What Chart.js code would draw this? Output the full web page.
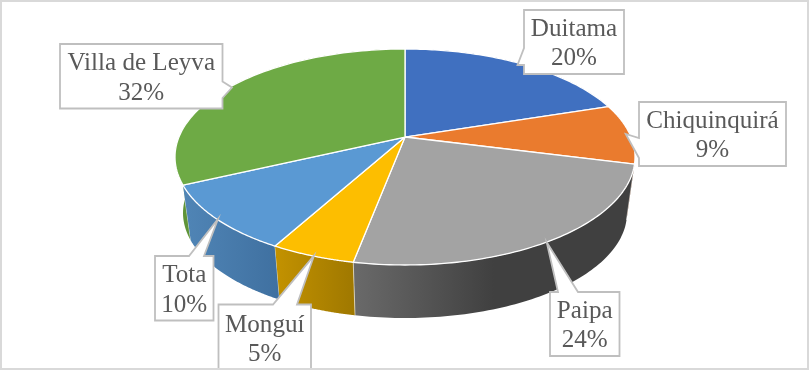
<!DOCTYPE html>
<html>
<head>
<meta charset="utf-8">
<style>html,body{margin:0;padding:0;background:#fff}canvas{display:block}</style>
<script src="https://cdn.jsdelivr.net/npm/chart.js@4/dist/chart.umd.js"></script>
</head>
<body>
<canvas id="c" width="809" height="370"></canvas>
<script>
const categories = ['Duitama', 'Chiquinquirá', 'Paipa', 'Monguí', 'Tota', 'Villa de Leyva'];
const shares = [20, 9, 24, 5, 10, 32];
const topColors = ['#4070C0', '#EA7B2E', '#A3A3A3', '#FDBE00', '#5A99D3', '#6EAA45'];
const wallStops = [
  [[0, '#2f5597'], [1, '#2f5597']],
  [[0, '#ae5a21'], [1, '#ae5a21']],
  [[0, '#6a6a6a'], [0.5, '#404040'], [1, '#404040']],
  [[0, '#c39200'], [1, '#9f7800']],
  [[0, '#5085b6'], [1, '#3f70a0']],
  [[0, '#5f9438'], [1, '#5f9438']]
];
// callout boxes: x0,y0,x1,y1, baselines, tail side, tail points
const callouts = [
  {box:[524,10,624,74],   base:[36,65],   side:'left',  tail:[[524,65],[517.5,65],[524,48]]},
  {box:[639,102,786,166], base:[128,157], side:'left',  tail:[[639,158],[625.7,134],[639,138]]},
  {box:[550,292,619.5,356], base:[318,347], side:'top', tail:[[558,292],[546.7,242.3],[578,292]]},
  {box:[218.5,304.5,311,372], base:[332,361], side:'top', tail:[[273,304.5],[314,255.7],[297,304.5]]},
  {box:[155,256,213.5,320.5], base:[282,311.5], side:'top', tail:[[189,256],[218,219],[204,256]]},
  {box:[60,44,222.5,108.5], base:[70,99.5], side:'right', tail:[[222.5,81.5],[232,87.5],[222.5,98]]}
];

const TOP_SX = 230 / 108, BOT_SX = 222 / 108, BOT_SY = 105 / 108, BOT_DY = 56, TILT = -0.185;

function project(el, angle, bottom) {
  const t = angle + Math.PI / 2;
  const u = Math.sin(t), v = -Math.cos(t);
  const w = 1 + TILT * v;
  const up = u * Math.sqrt(1 - TILT * TILT) / w;
  const vp = (v + TILT) / w;
  const R = el.outerRadius;
  return bottom
    ? [el.x + R * BOT_SX * up, el.y + BOT_DY + R * BOT_SY * vp]
    : [el.x + R * TOP_SX * up, el.y + R * vp];
}
function arcPoints(el, bottom) {
  const pts = [], n = 80;
  for (let i = 0; i <= n; i++) {
    pts.push(project(el, el.startAngle + (el.endAngle - el.startAngle) * i / n, bottom));
  }
  return pts;
}

const pie3d = {
  id: 'pie3d',
  beforeDatasetDraw(chart, args) {
    const ctx = chart.ctx;
    const els = chart.getDatasetMeta(args.index).data;
    const order = els.map((e, i) => i).sort((a, b) =>
      -Math.cos((els[a].startAngle + els[a].endAngle) / 2 + Math.PI / 2) -
      -Math.cos((els[b].startAngle + els[b].endAngle) / 2 + Math.PI / 2));
    ctx.save();
    for (const i of order) {
      const el = els[i];
      const top = arcPoints(el, false), bot = arcPoints(el, true);
      const xs = top.concat(bot).map(p => p[0]);
      const g = ctx.createLinearGradient(Math.min(...xs), 0, Math.max(...xs), 0);
      wallStops[i].forEach(s => g.addColorStop(s[0], s[1]));
      ctx.beginPath();
      top.forEach((p, k) => k ? ctx.lineTo(p[0], p[1]) : ctx.moveTo(p[0], p[1]));
      bot.reverse().forEach(p => ctx.lineTo(p[0], p[1]));
      ctx.closePath();
      ctx.fillStyle = g;
      ctx.fill();
      // pale edges where two walls meet
      const a = project(el, el.startAngle, false), b = project(el, el.startAngle, true);
      ctx.beginPath(); ctx.moveTo(a[0], a[1]); ctx.lineTo(b[0], b[1]);
      ctx.strokeStyle = 'rgba(255,255,255,0.55)';
      ctx.lineWidth = 1;
      ctx.stroke();
    }
    els.forEach(el => {
      const ax = el.x, ay = el.y + el.outerRadius * TILT;
      ctx.beginPath();
      ctx.moveTo(ax, ay);
      arcPoints(el, false).forEach(p => ctx.lineTo(p[0], p[1]));
      ctx.closePath();
      ctx.fillStyle = el.options.backgroundColor;
      ctx.fill();
      ctx.strokeStyle = '#ffffff';
      ctx.lineWidth = 1.3;
      ctx.lineJoin = 'round';
      ctx.stroke();
    });
    ctx.restore();
    return false;
  },
  afterDatasetsDraw(chart) {
    const ctx = chart.ctx;
    ctx.save();
    callouts.forEach((c, i) => {
      const [x0, y0, x1, y1] = c.box;
      ctx.beginPath();
      ctx.moveTo(x0, y0);
      if (c.side === 'top') c.tail.forEach(p => ctx.lineTo(p[0], p[1]));
      ctx.lineTo(x1, y0);
      if (c.side === 'right') c.tail.forEach(p => ctx.lineTo(p[0], p[1]));
      ctx.lineTo(x1, y1);
      ctx.lineTo(x0, y1);
      if (c.side === 'left') c.tail.forEach(p => ctx.lineTo(p[0], p[1]));
      ctx.closePath();
      ctx.fillStyle = '#ffffff';
      ctx.fill();
      ctx.strokeStyle = '#BFBFBF';
      ctx.lineWidth = 1.8;
      ctx.lineJoin = 'miter';
      ctx.stroke();
      ctx.fillStyle = '#595959';
      ctx.font = '25.1px "Liberation Serif"';
      ctx.textAlign = 'center';
      ctx.textBaseline = 'alphabetic';
      const cx = (x0 + x1) / 2;
      ctx.fillText(categories[i], cx, c.base[0]);
      ctx.fillText(shares[i] + '%', cx, c.base[1]);
    });
    ctx.strokeStyle = '#D9D9D9';
    ctx.lineWidth = 2;
    ctx.strokeRect(1, 1, 807, 368);
    ctx.restore();
  }
};

new Chart(document.getElementById('c'), {
  type: 'pie',
  data: {
    labels: categories,
    datasets: [{ data: shares, backgroundColor: topColors, borderWidth: 0 }]
  },
  options: {
    responsive: false,
    animation: false,
    layout: { padding: { top: 49, bottom: 105, left: 1, right: 0 } },
    plugins: { legend: { display: false }, tooltip: { enabled: false } }
  },
  plugins: [pie3d]
});
</script>
</body>
</html>
